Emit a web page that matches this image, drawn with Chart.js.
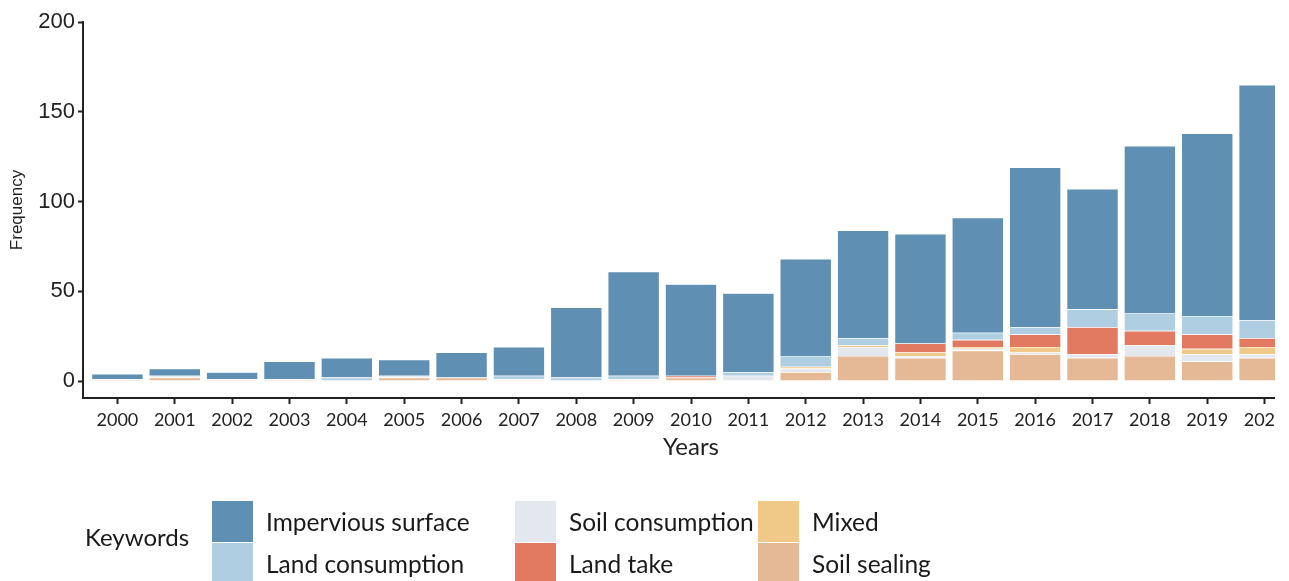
<!DOCTYPE html>
<html>
<head>
<meta charset="utf-8">
<script src="https://cdn.jsdelivr.net/npm/chart.js@4.4.1/dist/chart.umd.min.js"></script>
<style>
html,body{margin:0;padding:0;background:#fff;overflow:hidden;width:1289px;height:581px;}
#clip{position:absolute;left:0;top:0;width:1275px;height:470px;overflow:hidden;}
#wrap{position:absolute;left:0;top:0;width:1300px;height:470px;}
#legend{position:absolute;left:0;top:0;width:1289px;height:581px;font-family:Lato,sans-serif;color:#1a1a1a;}
#legend .ttl{position:absolute;left:85px;top:517px;height:40px;line-height:40px;font-size:24px;white-space:nowrap;}
#legend .sw{position:absolute;width:41px;height:41px;}
#legend .lt{position:absolute;height:41px;line-height:41px;font-size:24.5px;white-space:nowrap;}
</style>
</head>
<body>
<div id="clip"><div id="wrap"><canvas id="c"></canvas></div></div>
<div id="legend"></div>
<script>
const years = [2000,2001,2002,2003,2004,2005,2006,2007,2008,2009,2010,2011,2012,2013,2014,2015,2016,2017,2018,2019,2020];
const yTicks = [0,50,100,150,200];

const imperviousSurface = [3,4,4,10,11,9,14,16,39,58,51,44,54,60,61,64,89,67,93,102,131];
const landConsumption   = [0,0,0,0,2,0,0,2,2,2,0,2,6,4,0,4,4,10,10,10,10];
const landTake          = [0,0,0,0,0,0,0,0,0,0,1,0,0,0,5,4,7,15,8,8,5];
const mixed             = [0,0,0,0,0,0,0,0,0,0,0,0,1,1,2,1,3,0,0,3,4];
const soilConsumption   = [0,1,0,0,0,1,0,0,0,0,0,3,2,5,1,1,1,2,6,4,2];
const soilSealing       = [1,2,1,1,0,2,2,1,0,1,2,0,5,14,13,17,15,13,14,11,13];

const seriesNames  = ['Soil sealing','Soil consumption','Mixed','Land take','Land consumption','Impervious surface'];
const seriesValues = [soilSealing, soilConsumption, mixed, landTake, landConsumption, imperviousSurface];
const seriesColors = ['#E5B896','#E4E8EE','#F0C988','#E17A61','#AFCEE2','#5F8FB2'];
const legendOrder  = ['Impervious surface','Land consumption','Soil consumption','Land take','Mixed','Soil sealing'];

const datasets = seriesNames.map((name, i) => ({
  label: name,
  data: seriesValues[i],
  backgroundColor: seriesColors[i],
  borderColor: '#ffffff',
  borderWidth: 0.6,
  barPercentage: 0.9,
  categoryPercentage: 1.0
}));

const axisColor = '#222222';

new Chart(document.getElementById('c'), {
  type: 'bar',
  data: { labels: years, datasets: datasets },
  options: {
    responsive: true,
    maintainAspectRatio: false,
    animation: false,
    layout: { padding: { top: 22, right: 1, left: 0, bottom: 0 } },
    plugins: { legend: { display: false }, tooltip: { enabled: false } },
    scales: {
      x: {
        type: 'linear',
        min: 1999.4,
        max: 2020.6,
        stacked: true,
        offset: false,
        grid: { offset: false, drawOnChartArea: false, drawTicks: true, tickLength: 6, tickWidth: 2, tickColor: axisColor },
        border: { display: true, color: axisColor, width: 2 },
        ticks: {
          font: { family: 'Lato', size: 18 },
          color: axisColor,
          padding: 5,
          maxRotation: 0,
          autoSkip: false,
          callback: v => String(v)
        },
        afterBuildTicks: s => { s.ticks = years.map(v => ({ value: v })); },
        afterFit: s => { s.height = 72; },
        title: { display: true, text: 'Years', font: { family: 'Lato', size: 24 }, color: axisColor, padding: { top: 0, bottom: 8 } }
      },
      y: {
        min: -9.4,
        max: 200,
        stacked: true,
        grid: { drawOnChartArea: false, drawTicks: true, tickLength: 5, tickWidth: 2, tickColor: axisColor },
        border: { display: true, color: axisColor, width: 2 },
        ticks: { font: { family: 'Liberation Sans', size: 22 }, color: axisColor, padding: 3 },
        afterBuildTicks: s => { s.ticks = yTicks.map(v => ({ value: v })); },
        afterFit: s => { s.width = 83; },
        title: { display: true, text: 'Frequency', font: { family: 'Liberation Sans', size: 17 }, color: axisColor, padding: { top: 7, bottom: 0 } }
      }
    }
  }
});

// HTML legend (2 rows x 3 columns, column-major)
const lg = document.getElementById('legend');
const t = document.createElement('div');
t.className = 'ttl'; t.textContent = 'Keywords';
lg.appendChild(t);
const colX = [212, 515, 758];
const rowY = [501, 543];
legendOrder.forEach((name, k) => {
  const idx = seriesNames.indexOf(name);
  const col = Math.floor(k / 2), row = k % 2;
  const sw = document.createElement('div');
  sw.className = 'sw';
  sw.style.left = colX[col] + 'px';
  sw.style.top = rowY[row] + 'px';
  sw.style.background = seriesColors[idx];
  lg.appendChild(sw);
  const tx = document.createElement('div');
  tx.className = 'lt';
  tx.style.left = (colX[col] + 54) + 'px';
  tx.style.top = rowY[row] + 'px';
  tx.textContent = name;
  lg.appendChild(tx);
});
</script>
</body>
</html>
